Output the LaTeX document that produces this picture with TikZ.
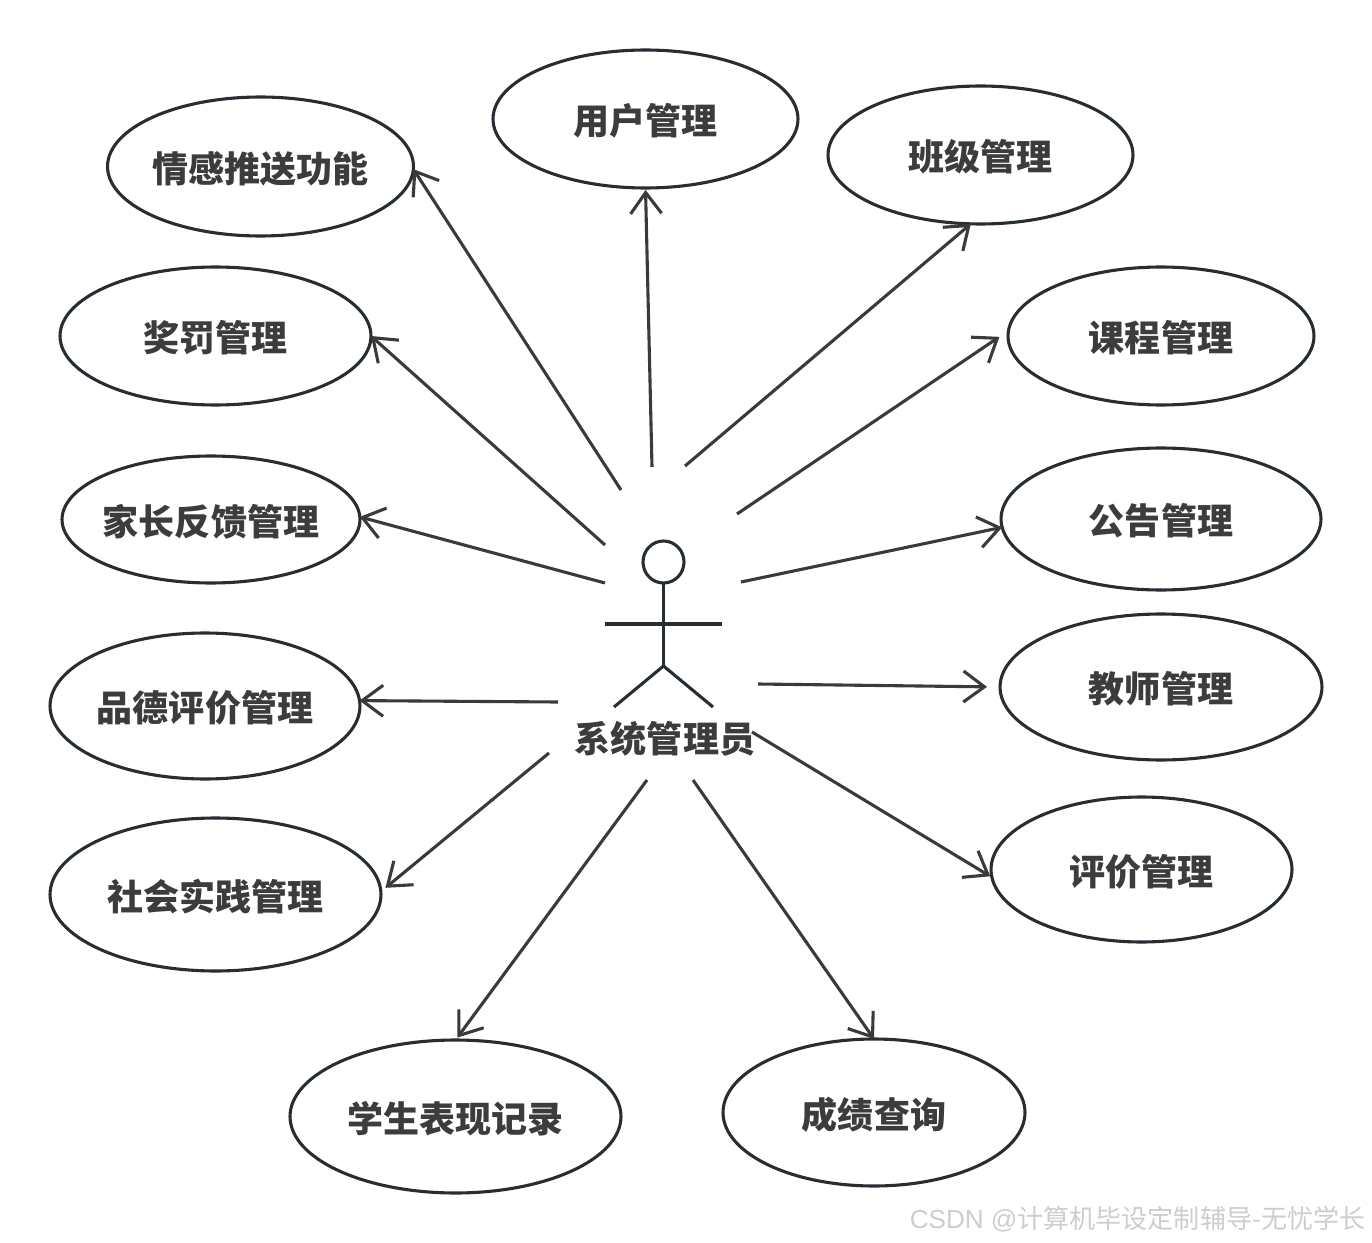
\documentclass[tikz,border=0pt]{standalone}
\usepackage{fontspec}
\setmainfont{Noto Sans CJK SC}
\newfontfamily\latinfont{Liberation Sans}
\usetikzlibrary{arrows.meta,shapes.geometric}
\definecolor{inkline}{HTML}{262D33}
\definecolor{inkarrow}{HTML}{3A3A3A}
\definecolor{inktext}{HTML}{3C3C3C}
\definecolor{inkmark}{HTML}{CDCDCD}

\begin{document}
\begin{tikzpicture}[
  x=0.02cm,y=-0.02cm,
  boldtext/.style={text=inktext,text height=0.7cm,text depth=0.072cm,font=\fontsize{20.5pt}{24pt}\selectfont\bfseries},
  usecase/.style={draw=inkline,ellipse,line width=0.062cm,inner sep=0pt,inner xsep=-0.5cm,outer sep=0pt,boldtext},
  arr/.style={-{Straight Barb[length=0.42cm,width=0.62cm,line width=0.062cm]},line width=0.062cm,draw=inkarrow},
  actorline/.style={draw=inkline,line width=0.062cm}
]
\useasboundingbox (0,0) rectangle (1372,1243);
\node[usecase,minimum width=6.12cm,minimum height=2.78cm] (emotion) at (260.5,166.5) {情感推送功能};
\node[usecase,minimum width=6.10cm,minimum height=2.76cm] (user) at (645.5,119) {用户管理};
\node[usecase,minimum width=6.10cm,minimum height=2.76cm] (class) at (980.5,155) {班级管理};
\node[usecase,minimum width=6.12cm,minimum height=2.76cm] (course) at (1161,336) {课程管理};
\node[usecase,minimum width=6.40cm,minimum height=2.84cm] (notice) at (1161,519) {公告管理};
\node[usecase,minimum width=6.44cm,minimum height=2.92cm] (teacher) at (1161,687) {教师管理};
\node[usecase,minimum width=6.02cm,minimum height=2.90cm] (review) at (1141.5,869.5) {评价管理};
\node[usecase,minimum width=6.04cm,minimum height=2.94cm] (score) at (874,1112.5) {成绩查询};
\node[usecase,minimum width=6.62cm,minimum height=3.06cm] (record) at (455.5,1116.5) {学生表现记录};
\node[usecase,minimum width=6.62cm,minimum height=3.06cm] (social) at (215.5,894.5) {社会实践管理};
\node[usecase,minimum width=6.20cm,minimum height=2.92cm] (moral) at (205,706) {品德评价管理};
\node[usecase,minimum width=5.96cm,minimum height=2.54cm] (parent) at (211,519.5) {家长反馈管理};
\node[usecase,minimum width=6.22cm,minimum height=2.76cm] (reward) at (215.5,336) {奖罚管理};
% actor
\node[draw=inkline,ellipse,line width=0.062cm,minimum width=0.82cm,minimum height=0.84cm,inner sep=0pt,outer sep=0pt] (head) at (663.5,562) {};
\node[boldtext,inner sep=0pt] (admin) at (665,737) {系统管理员};
\coordinate (hip) at (663.5,666);
\coordinate (armL) at (605,624);
\coordinate (armR) at (722,624);
\coordinate (legL) at (614,707);
\coordinate (legR) at (713,707);
\draw[actorline] (head.south) -- (hip);
\draw[actorline] (armL) -- (armR);
\draw[actorline] (legL) -- (hip) -- (legR);
% free ends round the actor
\coordinate (aEmotion) at (621,490);
\coordinate (aUser) at (652,467);
\coordinate (aClass) at (685,466);
\coordinate (aCourse) at (737,514);
\coordinate (aNotice) at (741,582);
\coordinate (aTeacher) at (758,684);
\coordinate (aReview) at (752,732);
\coordinate (aScore) at (693,780);
\coordinate (aRecord) at (647,780);
\coordinate (aSocial) at (549,753);
\coordinate (aMoral) at (558,702);
\coordinate (aParent) at (605,583);
\coordinate (aReward) at (605,545);
\draw[arr] (aEmotion) -- (emotion.-1);
\draw[arr,shorten >=0.04cm] (aUser) -- (user.south);
\draw[arr] (aClass) -- (class.-98);
\draw[arr,shorten >=0.22cm] (aCourse) -- (course.178);
\draw[arr] (aNotice) -- (notice.183.6);
\draw[arr,shorten >=0.26cm] (aTeacher) -- (teacher.west);
\draw[arr,shorten >=0.04cm] (aReview) -- (review.183.2);
\draw[arr] (aScore) -- (score.north);
\draw[arr,shorten >=0.06cm] (aRecord) -- (record.north);
\draw[arr,shorten >=0.12cm] (aSocial) -- (social.1);
\draw[arr] (aMoral) -- (moral.2.2);
\draw[arr] (aParent) -- (parent.1);
\draw[arr] (aReward) -- (reward.east);
\node[anchor=east,text=inkmark,font=\fontsize{14.85pt}{17pt}\selectfont,inner sep=0pt] (mark) at (1366,1219) {{\latinfont CSDN @}计算机毕设定制辅导-无忧学长};
\end{tikzpicture}
\end{document}
